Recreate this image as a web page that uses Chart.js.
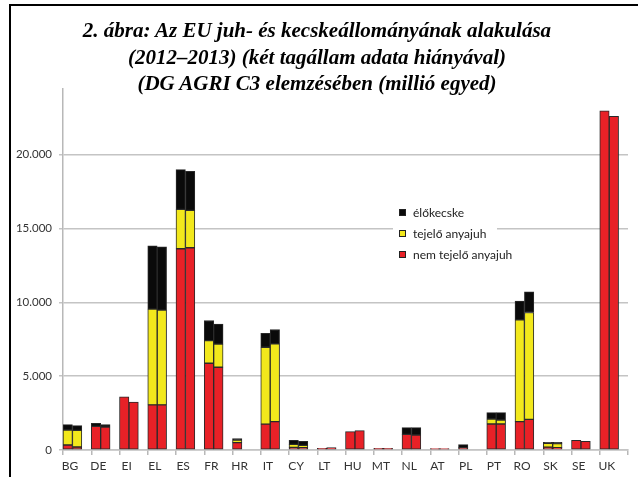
<!DOCTYPE html>
<html>
<head>
<meta charset="utf-8">
<script src="https://cdn.jsdelivr.net/npm/chart.js@4/dist/chart.umd.min.js"></script>
<style>
  html, body { margin: 0; padding: 0; background: #fff; }
  #wrap { position: relative; width: 638px; height: 477px; overflow: hidden; }
  #frame { position: absolute; left: 9px; top: 4px; width: 700px; height: 600px;
           border-left: 2px solid #000; border-top: 2px solid #000; pointer-events: none; }
  #title { position: absolute; left: 0; top: 17px; width: 634px; text-align: center;
           font-family: "Liberation Serif", serif; font-weight: bold; font-style: italic;
           font-size: 21px; line-height: 26.7px; color: #000; }
  #legend { position: absolute; left: 393px; top: 201px; width: 104px; height: 62px; background: #fff; }
  .li { position: absolute; left: 6px; height: 14px; font-family: Lato, sans-serif; font-size: 12px;
        color: #222; white-space: nowrap; line-height: 14px; }
  .sw { display: inline-block; width: 5px; height: 5px; border: 1px solid #222; margin-right: 7px;
        vertical-align: middle; position: relative; top: -1px; }
  canvas { position: absolute; left: 0; top: 0; }
</style>
</head>
<body>
<div id="wrap">
  <canvas id="c" width="638" height="477"></canvas>
  <div id="frame"></div>
  <div id="title">2. ábra: Az EU juh- és kecskeállományának alakulása<br>(2012–2013) (két tagállam adata hiányával)<br>(DG AGRI C3 elemzésében (millió egyed)</div>
  <div id="legend"></div>
</div>
<script>
// Categories (member states)
const categories = ['BG','DE','EI','EL','ES','FR','HR','IT','CY','LT','HU','MT','NL','AT','PL','PT','RO','SK','SE','UK'];

// 2012 values (thousand head)
const nemTejelo2012 = [339, 1605, 3593, 3051, 13628, 5876, 500, 1750, 181, 110, 1243, 110, 1062, 100, 158, 1763, 1921, 200, 655, 22964];
const tejelo2012    = [1017, null, null, 6486, 2667, 1537, 180, 5211, 203, null, null, null, null, null, null, 339, 6893, 250, null, null];
const elokecske2012 = [361, 203, null, 4294, 2689, 1356, 90, 949, 271, null, null, null, 452, null, 204, 429, 1265, 70, null, null];

// 2013 values (thousand head)
const nemTejelo2013 = [203, 1560, 3254, 3051, 13696, 5605, null, 1921, 158, 170, 1311, 110, 1017, 100, null, 1763, 2079, 160, 588, 22598];
const tejelo2013    = [1131, null, null, 6418, 2531, 1565, null, 5266, 158, null, null, null, null, null, null, 271, 7232, 270, null, null];
const elokecske2013 = [316, 157, null, 4294, 2644, 1350, null, 972, 272, null, null, null, 497, null, null, 497, 1401, 90, null, null];

// Legend / series names
const seriesNames = ['élőkecske', 'tejelő anyajuh', 'nem tejelő anyajuh'];
const colors = { elo: '#0a0a0a', tej: '#f2e81c', nem: '#e82127' };

// Y tick values
const yTicks = [0, 5000, 10000, 15000, 20000];
const yMax = 24450;

const border = '#2a2a2a';
function ds(label, data, stack, color) {
  return { label, data, stack, backgroundColor: color, borderColor: border, borderWidth: 1,
           borderSkipped: false, categoryPercentage: 1, barPercentage: 1 };
}

const datasets = [
  ds('nem tejelő anyajuh', nemTejelo2012, 'y2012', colors.nem),
  ds('tejelő anyajuh', tejelo2012, 'y2012', colors.tej),
  ds('élőkecske', elokecske2012, 'y2012', colors.elo),
  ds('nem tejelő anyajuh', nemTejelo2013, 'y2013', colors.nem),
  ds('tejelő anyajuh', tejelo2013, 'y2013', colors.tej),
  ds('élőkecske', elokecske2013, 'y2013', colors.elo),
  ds('', categories.map(() => null), 'gap', 'rgba(0,0,0,0)')
];

// HTML legend
const legendColors = [colors.elo, colors.tej, colors.nem];
const legendTops = [5, 26, 47];
const lg = document.getElementById('legend');
seriesNames.forEach((n, i) => {
  const d = document.createElement('div');
  d.className = 'li';
  d.style.top = legendTops[i] + 'px';
  d.innerHTML = '<span class="sw" style="background:' + legendColors[i] + '"></span>' + n;
  lg.appendChild(d);
});

new Chart(document.getElementById('c'), {
  type: 'bar',
  data: { labels: categories, datasets },
  options: {
    responsive: false,
    animation: false,
    layout: { padding: { left: 0, right: 10, top: 89, bottom: 0 } },
    plugins: { legend: { display: false }, title: { display: false }, tooltip: { enabled: false } },
    scales: {
      x: {
        stacked: true,
        grid: { drawOnChartArea: false, drawTicks: true, tickLength: 5, color: '#b8b8b8', lineWidth: 1.5, offset: true },
        border: { color: '#b8b8b8', width: 1.5, z: -1 },
        ticks: { font: { family: 'Lato', size: 12 }, color: '#333', padding: 4, labelOffset: -7, maxRotation: 0, autoSkip: false },
        afterFit: s => { s.height = 27; }
      },
      y: {
        stacked: true,
        min: 0, max: yMax,
        grid: { color: '#c4c4c4', lineWidth: 1.5, tickLength: 4 },
        border: { color: '#b8b8b8', width: 1.5 },
        afterBuildTicks: s => { s.ticks = yTicks.map(v => ({ value: v })); },
        ticks: { font: { family: 'Lato', size: 11.5 }, color: '#333', padding: 7,
                 callback: v => v.toLocaleString('de-DE') },
        afterFit: s => { s.width = 63; }
      }
    }
  }
});
</script>
</body>
</html>
